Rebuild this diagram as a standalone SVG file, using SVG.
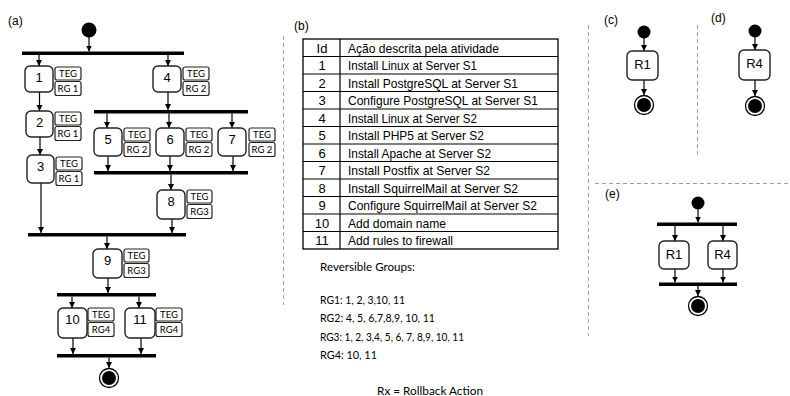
<svg xmlns="http://www.w3.org/2000/svg" width="790" height="396" viewBox="0 0 790 396">
<style>
.lbl{font-family:"Liberation Sans",Arial,sans-serif;font-size:12px;fill:#000}
.num{font-family:"Liberation Sans",Arial,sans-serif;font-size:13px;fill:#000;text-anchor:middle}
.tag{font-family:Lato,"Open Sans",sans-serif;font-size:9.5px;fill:#000;text-anchor:middle}
.node{fill:#fff;stroke:#222;stroke-width:1.4}
.tagbox{fill:#fff;stroke:#222;stroke-width:1.2}
.bar{fill:#000}
.con{stroke:#000;stroke-width:1.2;fill:none;marker-end:url(#ah)}
.dash{stroke:#a0a0a0;stroke-width:1;stroke-dasharray:4 3;fill:none}
.tbl{font-family:"Liberation Sans",Arial,sans-serif;font-size:13px;fill:#000}
.cal{font-family:Lato,"Open Sans",sans-serif;font-size:11px;fill:#000}
.start{fill:#000}
</style>
<defs>
<marker id="ah" viewBox="0 0 10 10" refX="10" refY="5" markerWidth="6" markerHeight="7" markerUnits="userSpaceOnUse" orient="auto">
<path d="M0,0 L10,5 L0,10 Z" fill="#000"/>
</marker>
</defs>
<rect width="790" height="396" fill="#fff"/>

<!-- dashed separators -->
<g id="separators">
<line class="dash" x1="283.5" y1="36" x2="283.5" y2="305"/>
<line class="dash" x1="588.5" y1="25" x2="588.5" y2="336"/>
<line class="dash" x1="697.5" y1="25" x2="697.5" y2="158"/>
<line class="dash" x1="595" y1="183.5" x2="790" y2="183.5"/>
</g>

<!-- panel labels -->
<text class="lbl" x="8" y="25">(a)</text>
<text class="lbl" x="294" y="30">(b)</text>
<text class="lbl" x="604" y="24">(c)</text>
<text class="lbl" x="711" y="22">(d)</text>
<text class="lbl" x="605" y="198">(e)</text>

<!-- connectors -->
<g id="connectors">
<!-- panel a -->
<line class="con" x1="89" y1="37" x2="89" y2="51.5"/>
<line class="con" x1="39" y1="55" x2="39" y2="66"/>
<line class="con" x1="168" y1="55" x2="168" y2="66"/>
<line class="con" x1="39.5" y1="92" x2="39.5" y2="111"/>
<line class="con" x1="40" y1="137" x2="40" y2="155"/>
<line class="con" x1="41" y1="183" x2="41" y2="233"/>
<line class="con" x1="168" y1="92" x2="168" y2="110"/>
<line class="con" x1="107" y1="113.5" x2="107" y2="128"/>
<line class="con" x1="169" y1="113.5" x2="169" y2="128"/>
<line class="con" x1="232" y1="113.5" x2="232" y2="128"/>
<line class="con" x1="108" y1="156" x2="108" y2="171"/>
<line class="con" x1="170" y1="156" x2="170" y2="171"/>
<line class="con" x1="233" y1="156" x2="233" y2="171"/>
<line class="con" x1="171" y1="174.5" x2="171" y2="190"/>
<line class="con" x1="172" y1="219" x2="172" y2="233"/>
<line class="con" x1="107" y1="236.5" x2="107" y2="249"/>
<line class="con" x1="108" y1="278" x2="108" y2="293"/>
<line class="con" x1="72" y1="296.5" x2="72" y2="308"/>
<line class="con" x1="139" y1="296.5" x2="139" y2="308"/>
<line class="con" x1="73" y1="338" x2="73" y2="354"/>
<line class="con" x1="141" y1="338" x2="141" y2="354"/>
<line class="con" x1="109" y1="357.5" x2="109" y2="368"/>
<!-- panel c -->
<line class="con" x1="644" y1="38" x2="644" y2="51"/>
<line class="con" x1="644" y1="80" x2="644" y2="95"/>
<!-- panel d -->
<line class="con" x1="755" y1="37" x2="755" y2="50"/>
<line class="con" x1="755" y1="80" x2="755" y2="96"/>
<!-- panel e -->
<line class="con" x1="698" y1="209" x2="698" y2="222.5"/>
<line class="con" x1="675" y1="226" x2="675" y2="241"/>
<line class="con" x1="723" y1="226" x2="723" y2="241"/>
<line class="con" x1="675" y1="269" x2="675" y2="282.5"/>
<line class="con" x1="723" y1="269" x2="723" y2="282.5"/>
<line class="con" x1="698" y1="286" x2="698" y2="296"/>
</g>

<!-- panel a nodes -->
<g id="a-start"><circle class="start" cx="89" cy="30" r="7.5"/></g>
<g id="a-fork1"><rect class="bar" x="22" y="51.5" width="162" height="3.5"/></g>
<g id="a-fork2"><rect class="bar" x="94" y="110" width="154" height="3.5"/></g>
<g id="a-join3"><rect class="bar" x="94" y="171" width="154" height="3.5"/></g>
<g id="a-join4"><rect class="bar" x="28" y="233" width="158" height="3.5"/></g>
<g id="a-fork5"><rect class="bar" x="57" y="293" width="99" height="3.5"/></g>
<g id="a-join6"><rect class="bar" x="57" y="354" width="99" height="3.5"/></g>
<g id="a-end"><circle cx="109" cy="378" r="9.5" fill="#fff" stroke="#000" stroke-width="1.3"/><circle cx="109" cy="378" r="7" fill="#000"/></g>

<g id="act1">
<rect class="node" x="25" y="66" width="28" height="26" rx="5"/>
<text class="num" x="39" y="82">1</text>
<rect class="tagbox" x="55" y="67" width="26" height="13" rx="2"/><text class="tag" x="68" y="77">TEG</text>
<rect class="tagbox" x="55" y="81.5" width="26" height="14" rx="2"/><text class="tag" x="68" y="92">RG 1</text>
</g>
<g id="act2">
<rect class="node" x="26" y="111" width="27" height="26" rx="5"/>
<text class="num" x="39.5" y="127">2</text>
<rect class="tagbox" x="55" y="112" width="26" height="13" rx="2"/><text class="tag" x="68" y="122">TEG</text>
<rect class="tagbox" x="55" y="126.5" width="26" height="14" rx="2"/><text class="tag" x="68" y="137">RG 1</text>
</g>
<g id="act3">
<rect class="node" x="27" y="155" width="27" height="28" rx="5"/>
<text class="num" x="40.5" y="171">3</text>
<rect class="tagbox" x="56" y="157" width="26" height="13" rx="2"/><text class="tag" x="69" y="167">TEG</text>
<rect class="tagbox" x="56" y="171.5" width="26" height="14" rx="2"/><text class="tag" x="69" y="182">RG 1</text>
</g>
<g id="act4">
<rect class="node" x="153" y="66" width="28" height="26" rx="5"/>
<text class="num" x="167" y="82">4</text>
<rect class="tagbox" x="183" y="67" width="26" height="13" rx="2"/><text class="tag" x="196" y="77">TEG</text>
<rect class="tagbox" x="183" y="81.5" width="26" height="14" rx="2"/><text class="tag" x="196" y="92">RG 2</text>
</g>
<g id="act5">
<rect class="node" x="94" y="128" width="28" height="28" rx="5"/>
<text class="num" x="108" y="144">5</text>
<rect class="tagbox" x="124" y="128" width="26" height="13" rx="2"/><text class="tag" x="137" y="138">TEG</text>
<rect class="tagbox" x="124" y="142.5" width="26" height="14" rx="2"/><text class="tag" x="137" y="153">RG 2</text>
</g>
<g id="act6">
<rect class="node" x="156" y="128" width="28" height="28" rx="5"/>
<text class="num" x="170" y="144">6</text>
<rect class="tagbox" x="186" y="128" width="26" height="13" rx="2"/><text class="tag" x="199" y="138">TEG</text>
<rect class="tagbox" x="186" y="142.5" width="26" height="14" rx="2"/><text class="tag" x="199" y="153">RG 2</text>
</g>
<g id="act7">
<rect class="node" x="218" y="128" width="28" height="28" rx="5"/>
<text class="num" x="232" y="144">7</text>
<rect class="tagbox" x="249" y="128" width="26" height="13" rx="2"/><text class="tag" x="262" y="138">TEG</text>
<rect class="tagbox" x="249" y="142.5" width="26" height="14" rx="2"/><text class="tag" x="262" y="153">RG 2</text>
</g>
<g id="act8">
<rect class="node" x="157" y="190" width="28" height="29" rx="5"/>
<text class="num" x="171" y="206">8</text>
<rect class="tagbox" x="187" y="190" width="25" height="13" rx="2"/><text class="tag" x="199.5" y="200">TEG</text>
<rect class="tagbox" x="187" y="204.5" width="25" height="14" rx="2"/><text class="tag" x="199.5" y="215">RG3</text>
</g>
<g id="act9">
<rect class="node" x="93" y="249" width="29" height="29" rx="5"/>
<text class="num" x="107.5" y="265">9</text>
<rect class="tagbox" x="124" y="249" width="25" height="13" rx="2"/><text class="tag" x="136.5" y="259">TEG</text>
<rect class="tagbox" x="124" y="263.5" width="25" height="14" rx="2"/><text class="tag" x="136.5" y="274">RG3</text>
</g>
<g id="act10">
<rect class="node" x="58" y="308" width="29" height="30" rx="5"/>
<text class="num" x="72.5" y="324">10</text>
<rect class="tagbox" x="88" y="308" width="26" height="13" rx="2"/><text class="tag" x="101" y="318">TEG</text>
<rect class="tagbox" x="88" y="322.5" width="26" height="14" rx="2"/><text class="tag" x="101" y="333">RG4</text>
</g>
<g id="act11">
<rect class="node" x="125" y="308" width="30" height="30" rx="5"/>
<text class="num" x="140" y="324">11</text>
<rect class="tagbox" x="156" y="308" width="26" height="13" rx="2"/><text class="tag" x="169" y="318">TEG</text>
<rect class="tagbox" x="156" y="322.5" width="26" height="14" rx="2"/><text class="tag" x="169" y="333">RG4</text>
</g>

<!-- panel b table -->
<g id="table">
<rect x="303" y="39" width="255" height="210" fill="#fff" stroke="#000" stroke-width="1.3"/>
<line x1="340" y1="39" x2="340" y2="249" stroke="#000" stroke-width="1.2"/>
<g stroke="#000" stroke-width="1.2">
<line x1="303" y1="56.5" x2="558" y2="56.5"/>
<line x1="303" y1="74" x2="558" y2="74"/>
<line x1="303" y1="91.5" x2="558" y2="91.5"/>
<line x1="303" y1="109" x2="558" y2="109"/>
<line x1="303" y1="126.5" x2="558" y2="126.5"/>
<line x1="303" y1="144" x2="558" y2="144"/>
<line x1="303" y1="161.5" x2="558" y2="161.5"/>
<line x1="303" y1="179" x2="558" y2="179"/>
<line x1="303" y1="196.5" x2="558" y2="196.5"/>
<line x1="303" y1="214" x2="558" y2="214"/>
<line x1="303" y1="231.5" x2="558" y2="231.5"/>
</g>
<g class="tbl" text-anchor="middle">
<text x="322" y="52.5">Id</text>
<text x="322" y="70">1</text>
<text x="322" y="87.5">2</text>
<text x="322" y="105">3</text>
<text x="322" y="122.5">4</text>
<text x="322" y="140">5</text>
<text x="322" y="157.5">6</text>
<text x="322" y="175">7</text>
<text x="322" y="192.5">8</text>
<text x="322" y="210">9</text>
<text x="322" y="227.5">10</text>
<text x="322" y="245">11</text>
</g>
<g class="tbl">
<text x="348" y="52.5" textLength="151" lengthAdjust="spacingAndGlyphs">Ação descrita pela atividade</text>
<text x="348" y="70" textLength="129" lengthAdjust="spacingAndGlyphs">Install Linux at Server S1</text>
<text x="348" y="87.5" textLength="170" lengthAdjust="spacingAndGlyphs">Install PostgreSQL at Server S1</text>
<text x="348" y="105" textLength="190" lengthAdjust="spacingAndGlyphs">Configure PostgreSQL at Server S1</text>
<text x="348" y="122.5" textLength="129" lengthAdjust="spacingAndGlyphs">Install Linux at Server S2</text>
<text x="348" y="140" textLength="136" lengthAdjust="spacingAndGlyphs">Install PHP5 at Server S2</text>
<text x="348" y="157.5" textLength="143" lengthAdjust="spacingAndGlyphs">Install Apache at Server S2</text>
<text x="348" y="175" textLength="142" lengthAdjust="spacingAndGlyphs">Install Postfix at Server S2</text>
<text x="348" y="192.5" textLength="170" lengthAdjust="spacingAndGlyphs">Install SquirrelMail at Server S2</text>
<text x="348" y="210" textLength="189" lengthAdjust="spacingAndGlyphs">Configure SquirrelMail at Server S2</text>
<text x="348" y="227.5" textLength="98" lengthAdjust="spacingAndGlyphs">Add domain name</text>
<text x="348" y="245" textLength="105" lengthAdjust="spacingAndGlyphs">Add rules to firewall</text>
</g>
</g>

<g id="groups-text" class="cal">
<text x="320" y="271" textLength="95" lengthAdjust="spacingAndGlyphs">Reversible Groups:</text>
<text x="320" y="304" textLength="85" lengthAdjust="spacingAndGlyphs">RG1: 1, 2, 3,10, 11</text>
<text x="320" y="322" textLength="115" lengthAdjust="spacingAndGlyphs">RG2: 4, 5, 6,7,8,9, 10, 11</text>
<text x="320" y="341" textLength="144" lengthAdjust="spacingAndGlyphs">RG3: 1, 2, 3,4, 5, 6, 7, 8,9, 10, 11</text>
<text x="320" y="359" textLength="57" lengthAdjust="spacingAndGlyphs">RG4: 10, 11</text>
<text x="377" y="395" textLength="106" lengthAdjust="spacingAndGlyphs">Rx = Rollback Action</text>
</g>

<!-- panel c -->
<g id="c-start"><circle class="start" cx="644" cy="32" r="6.5"/></g>
<g id="c-R1"><rect class="node" x="627" y="51" width="31" height="29" rx="5"/><text class="num" x="642.5" y="69" font-size="12">R1</text></g>
<g id="c-end"><circle cx="644" cy="105" r="9.5" fill="#fff" stroke="#000" stroke-width="1.3"/><circle cx="644" cy="105" r="7" fill="#000"/></g>

<!-- panel d -->
<g id="d-start"><circle class="start" cx="755" cy="31" r="6.5"/></g>
<g id="d-R4"><rect class="node" x="739" y="50" width="31" height="30" rx="5"/><text class="num" x="754.5" y="68" font-size="12">R4</text></g>
<g id="d-end"><circle cx="755" cy="106" r="9.5" fill="#fff" stroke="#000" stroke-width="1.3"/><circle cx="755" cy="106" r="7" fill="#000"/></g>

<!-- panel e -->
<g id="e-start"><circle class="start" cx="698" cy="203" r="6.5"/></g>
<g id="e-fork"><rect class="bar" x="657" y="222.5" width="80" height="3.5"/></g>
<g id="e-R1"><rect class="node" x="659" y="241" width="30" height="28" rx="5"/><text class="num" x="674" y="259" font-size="12">R1</text></g>
<g id="e-R4"><rect class="node" x="708" y="241" width="29" height="28" rx="5"/><text class="num" x="722.5" y="259" font-size="12">R4</text></g>
<g id="e-join"><rect class="bar" x="659" y="282.5" width="78" height="3.5"/></g>
<g id="e-end"><circle cx="698" cy="306" r="9.5" fill="#fff" stroke="#000" stroke-width="1.3"/><circle cx="698" cy="306" r="7" fill="#000"/></g>
</svg>
